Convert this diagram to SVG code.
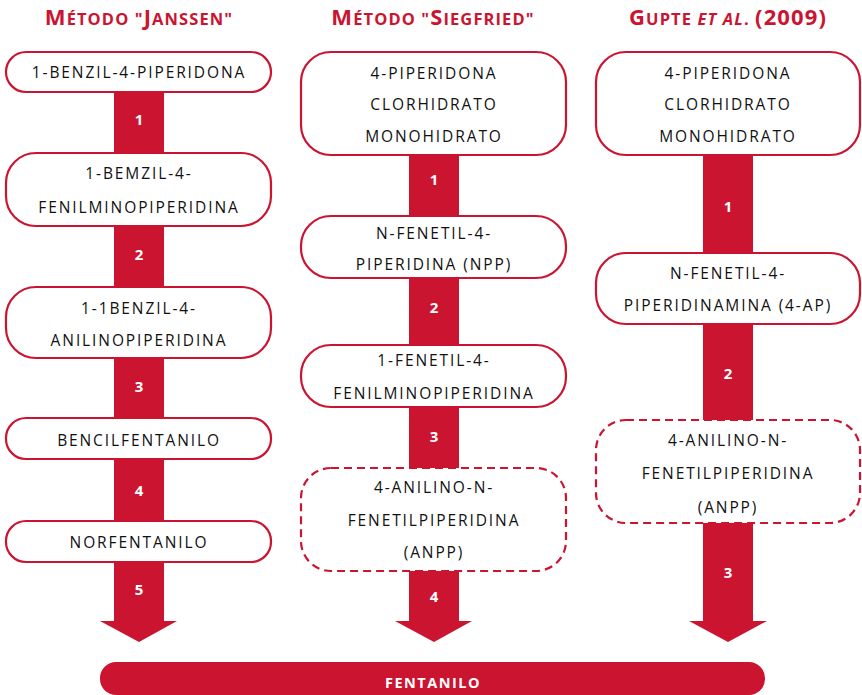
<svg xmlns="http://www.w3.org/2000/svg" width="862" height="695" viewBox="0 0 862 695">
<style>
.hdr{font-family:"Open Sans","Liberation Sans",sans-serif;font-weight:700;font-size:16.5px;fill:#cb1430;text-anchor:middle;letter-spacing:1.1px}
.big{font-size:22px}
.node{fill:#fff;stroke:#cb1430;stroke-width:2.2}
.dash{stroke-dasharray:8 5}
.t{font-family:"Open Sans","Liberation Sans",sans-serif;font-size:15.5px;fill:#111;text-anchor:middle;letter-spacing:1.9px}
.num{font-family:"Open Sans","Liberation Sans",sans-serif;font-weight:700;font-size:15px;fill:#fff;text-anchor:middle}
.arrow{fill:#cb1430}
</style>
<g id="headers">
<text class="hdr" x="139" y="25"><tspan class="big">M</tspan>ÉTODO "<tspan class="big">J</tspan>ANSSEN"</text>
<text class="hdr" x="433" y="25"><tspan class="big">M</tspan>ÉTODO "<tspan class="big">S</tspan>IEGFRIED"</text>
<text class="hdr" x="728" y="25"><tspan class="big">G</tspan>UPTE <tspan font-style="italic">ET AL</tspan>. <tspan class="big">(2009)</tspan></text>
</g>
<g id="connectors">
<path class="arrow" d="M114 70 H164 V621 H177 L139 642 L100 621 H114 Z"/>
<path class="arrow" d="M409 100 H459 V621 H472 L434 642 L395 621 H409 Z"/>
<path class="arrow" d="M703 100 H753 V621 H767 L728 642 L689 621 H703 Z"/>
<text class="num" x="139" y="125">1</text>
<text class="num" x="139" y="260">2</text>
<text class="num" x="139" y="392">3</text>
<text class="num" x="139" y="496">4</text>
<text class="num" x="139" y="595">5</text>
<text class="num" x="434" y="185">1</text>
<text class="num" x="434" y="313">2</text>
<text class="num" x="434" y="442">3</text>
<text class="num" x="434" y="602">4</text>
<text class="num" x="728" y="212">1</text>
<text class="num" x="728" y="379">2</text>
<text class="num" x="728" y="578">3</text>
</g>
<g id="j1"><rect class="node" x="6" y="52" width="265" height="40" rx="20"/><text class="t" x="139" y="77.5">1-BENZIL-4-PIPERIDONA</text></g>
<g id="j2"><rect class="node" x="6" y="153" width="265" height="73" rx="30"/><text class="t" x="139" y="178.5">1-BEMZIL-4-</text><text class="t" x="139" y="212.5">FENILMINOPIPERIDINA</text></g>
<g id="j3"><rect class="node" x="6" y="287" width="265" height="71" rx="30"/><text class="t" x="139" y="313.5">1-1BENZIL-4-</text><text class="t" x="139" y="345.5">ANILINOPIPERIDINA</text></g>
<g id="j4"><rect class="node" x="6" y="418" width="265" height="41" rx="20"/><text class="t" x="139" y="445.5">BENCILFENTANILO</text></g>
<g id="j5"><rect class="node" x="6" y="521" width="265" height="41" rx="20"/><text class="t" x="139" y="547.5">NORFENTANILO</text></g>
<g id="s1"><rect class="node" x="301" y="52" width="265" height="103" rx="30"/><text class="t" x="434" y="78.5">4-PIPERIDONA</text><text class="t" x="434" y="109.5">CLORHIDRATO</text><text class="t" x="434" y="141.5">MONOHIDRATO</text></g>
<g id="s2"><rect class="node" x="301" y="216" width="265" height="62" rx="30"/><text class="t" x="434" y="238.5">N-FENETIL-4-</text><text class="t" x="434" y="269.5">PIPERIDINA (NPP)</text></g>
<g id="s3"><rect class="node" x="301" y="345" width="265" height="62" rx="30"/><text class="t" x="434" y="365.5">1-FENETIL-4-</text><text class="t" x="434" y="398.5">FENILMINOPIPERIDINA</text></g>
<g id="s4"><rect class="node dash" x="301" y="468" width="265" height="103" rx="30"/><text class="t" x="434" y="492.5">4-ANILINO-N-</text><text class="t" x="434" y="525.5">FENETILPIPERIDINA</text><text class="t" x="434" y="557.5">(ANPP)</text></g>
<g id="g1"><rect class="node" x="596" y="52" width="264" height="103" rx="30"/><text class="t" x="728" y="78.5">4-PIPERIDONA</text><text class="t" x="728" y="109.5">CLORHIDRATO</text><text class="t" x="728" y="141.5">MONOHIDRATO</text></g>
<g id="g2"><rect class="node" x="596" y="253" width="264" height="71" rx="30"/><text class="t" x="728" y="278.5">N-FENETIL-4-</text><text class="t" x="728" y="310.5">PIPERIDINAMINA (4-AP)</text></g>
<g id="g3"><rect class="node dash" x="596" y="420" width="264" height="103" rx="30"/><text class="t" x="728" y="445.5">4-ANILINO-N-</text><text class="t" x="728" y="478.5">FENETILPIPERIDINA</text><text class="t" x="728" y="512.5">(ANPP)</text></g>
<g id="fentanilo"><rect x="100" y="662" width="665" height="33" rx="16" fill="#cb1430"/><text x="433" y="688" font-family="'Open Sans','Liberation Sans',sans-serif" font-weight="700" font-size="14.5" fill="#fff" text-anchor="middle" letter-spacing="1.5">FENTANILO</text></g>
</svg>
